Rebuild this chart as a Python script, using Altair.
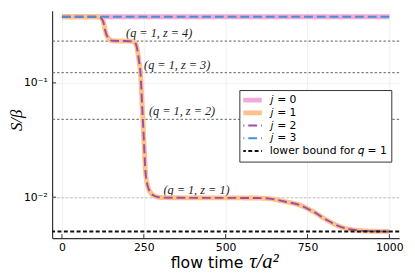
import altair as alt
import pandas as pd

# ---- data ----
times = [0, 100, 115, 125, 135, 145, 155, 180, 205, 215, 225, 235, 240, 245, 250,
         255, 260, 265, 272, 280, 295, 310, 400, 500, 600, 640, 680, 729, 769, 809,
         849, 889, 929, 1000]
s_j1 = [0.3784, 0.3784, 0.3758, 0.350, 0.2685, 0.2404, 0.2333, 0.2323, 0.2318, 0.2300,
        0.2203, 0.1585, 0.1219, 0.0631, 0.0327, 0.0170, 0.0132, 0.01175, 0.01084, 0.01033,
        0.0100, 0.00991, 0.00986, 0.00986, 0.00982, 0.00966, 0.00916, 0.00847, 0.00743,
        0.00631, 0.00553, 0.00518, 0.00506, 0.00501]
s_j2 = s_j1
flat_times = [0, 1000]
s_j0 = [0.3784, 0.3784]
s_j3 = [0.3784, 0.3784]

series_names = ["𝑗 = 0", "𝑗 = 1", "𝑗 = 2", "𝑗 = 3", "lower bound for 𝑞 = 1"]
lower_bound = [0.00501]

ref_z = [4, 3, 2, 1]
ref_level = [0.232, 0.1227, 0.0479, 0.00986]
ref_label = ["(q = 1, z = 4)", "(q = 1, z = 3)", "(q = 1, z = 2)", "(q = 1, z = 1)"]
ref_label_t = [297, 352, 367, 411]

x_ticks = [0, 250, 500, 750, 1000]
y_ticks = [0.01, 0.1]

rows = []
for name, tt, ss in [(series_names[0], flat_times, s_j0), (series_names[1], times, s_j1),
                     (series_names[2], times, s_j2), (series_names[3], flat_times, s_j3)]:
    for t, s in zip(tt, ss):
        rows.append({"t": t, "s": s, "series": name})
lines_df = pd.DataFrame(rows)
lb_df = pd.DataFrame({"s": lower_bound, "series": [series_names[4]]})
ref_df = pd.DataFrame({"z": ref_z, "s": ref_level, "label": ref_label, "t": ref_label_t})

W, H = 354, 232
xscale = alt.Scale(domain=[-30, 1030], nice=False, zero=False)
yscale = alt.Scale(type="log", domain=[10 ** -2.358, 10 ** -0.368], nice=False)

xaxis = alt.Axis(values=x_ticks, title=None, grid=True, ticks=False, labelPadding=4,
                 format="d",
                 labelFont="DejaVu Sans", labelFontSize=11, labelColor="#000",
                 domainColor="#333", domainWidth=1.2, gridColor="#ebebeb", gridWidth=0.8)
yaxis = alt.Axis(values=y_ticks, title=None, grid=True, ticks=False, labelPadding=5,
                 labelExpr="datum.value < 0.05 ? '10⁻²' : '10⁻¹'",
                 labelFont="DejaVu Sans", labelFontSize=11, labelColor="#000",
                 domainColor="#333", domainWidth=1.2, gridColor="#ebebeb", gridWidth=0.8)

colors = ["#F5A9D8", "#FDC189", "#9B4FA8", "#4B8FD3", "#111111"]
dashes = [[1, 0], [1, 0], [9, 4], [9, 4], [4, 2.5]]
widths = [5, 5, 2, 2, 2]

legend = alt.Legend(orient="none", legendX=191, legendY=81, title=None,
                    symbolType="stroke", symbolSize=720, clipHeight=12.5, rowPadding=0,
                    symbolStrokeWidth={"expr": "indexof(['𝑗 = 0', '𝑗 = 1'], datum.value) >= 0 ? 5 : 2"},
                    labelFont="DejaVu Sans", labelFontSize=11, labelColor="#000",
                    labelOffset=16, padding=4, strokeColor="#333", fillColor="white",
                    cornerRadius=0)

color_enc = alt.Color("series:N", scale=alt.Scale(domain=series_names, range=colors), legend=legend)
dash_enc = alt.StrokeDash("series:N", scale=alt.Scale(domain=series_names, range=dashes), legend=legend)

base_lines = alt.Chart(lines_df)

def series_layer(i):
    return base_lines.transform_filter(alt.datum.series == series_names[i]).mark_line(
        interpolate="monotone", clip=True, strokeWidth=widths[i]
    ).encode(
        x=alt.X("t:Q", scale=xscale, axis=xaxis),
        y=alt.Y("s:Q", scale=yscale, axis=yaxis),
        color=color_enc, strokeDash=dash_enc,
    )

ref_rules = alt.Chart(ref_df).mark_rule(strokeDash=[2.5, 2], strokeWidth=1.3).encode(
    y=alt.Y("s:Q", scale=yscale, axis=yaxis),
    color=alt.condition("datum.z == 1", alt.value("#cccccc"), alt.value("#808080")),
)
ref_text = alt.Chart(ref_df).mark_text(
    font="Liberation Serif", fontStyle="italic", fontSize=12.5, dy=-8,
    align="center", baseline="middle", color="#222"
).encode(
    x=alt.X("t:Q", scale=xscale, axis=xaxis),
    y=alt.Y("s:Q", scale=yscale, axis=yaxis),
    text="label:N",
)

lb_rule = alt.Chart(lb_df).mark_rule(strokeWidth=widths[4]).encode(
    y=alt.Y("s:Q", scale=yscale, axis=yaxis),
    color=color_enc, strokeDash=dash_enc,
)

xt = alt.Chart(pd.DataFrame({"t": x_ticks})).mark_rule(color="#333", strokeWidth=1).encode(
    x=alt.X("t:Q", scale=xscale, axis=xaxis), y=alt.value(H), y2=alt.value(H - 4))
yt = alt.Chart(pd.DataFrame({"s": y_ticks})).mark_rule(color="#333", strokeWidth=1).encode(
    y=alt.Y("s:Q", scale=yscale, axis=yaxis), x=alt.value(0), x2=alt.value(4))

xtitle1 = alt.Chart(pd.DataFrame({"txt": ["flow time"]})).mark_text(
    font="DejaVu Sans", fontSize=16, align="left", baseline="alphabetic", color="#000"
).encode(x=alt.value(121), y=alt.value(263), text="txt:N")
xtitle2 = alt.Chart(pd.DataFrame({"txt": ["τ/a²"]})).mark_text(
    font="Liberation Serif", fontStyle="italic", fontSize=21, align="left", baseline="alphabetic", color="#000"
).encode(x=alt.value(201), y=alt.value(263), text="txt:N")
ytitle = alt.Chart(pd.DataFrame({"txt": ["S/β"]})).mark_text(
    font="Liberation Serif", fontStyle="italic", fontSize=17, align="center", baseline="alphabetic",
    angle=270, color="#000"
).encode(x=alt.value(-31), y=alt.value(112), text="txt:N")

chart = alt.layer(
    ref_rules, ref_text,
    series_layer(0), series_layer(1), series_layer(2), series_layer(3),
    lb_rule, xt, yt, xtitle1, xtitle2, ytitle,
).properties(
    width=W, height=H,
    padding={"left": 45, "top": 0, "right": 8, "bottom": 37},
    autosize=alt.AutoSizeParams(type="none"),
).configure_view(stroke=None)

chart.save("out.html", embed_options={"renderer": "svg", "actions": False})
